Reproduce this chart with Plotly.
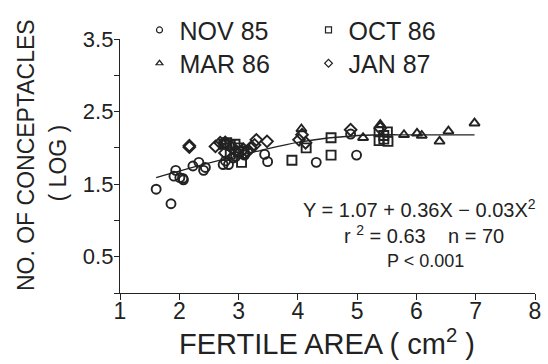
import plotly.graph_objects as go

# ---- data ----
nov85_x = [1.61, 1.86, 1.94, 1.91, 2.06, 2.07, 2.01, 2.23, 2.33, 2.41, 2.44, 2.74, 2.83, 2.91, 3.44, 3.49, 4.31, 4.99, 4.89, 2.78, 2.95, 3.10]
nov85_y = [1.43, 1.23, 1.69, 1.61, 1.58, 1.56, 1.59, 1.75, 1.80, 1.69, 1.73, 1.77, 1.77, 1.86, 1.91, 1.81, 1.80, 1.90, 2.19, 1.82, 1.88, 1.90]

oct86_x = [2.80, 2.86, 2.94, 2.99, 3.05, 2.86, 3.90, 4.14, 4.56, 4.56, 5.37, 5.51, 5.37, 5.52, 5.45, 2.75, 3.00, 5.45]
oct86_y = [2.07, 2.04, 2.05, 2.00, 1.80, 1.91, 1.83, 2.00, 2.14, 1.90, 2.22, 2.22, 2.10, 2.09, 2.17, 2.05, 1.95, 2.12]

mar86_x = [4.06, 5.10, 5.39, 5.79, 6.01, 6.09, 6.39, 6.54, 6.98, 2.78]
mar86_y = [2.26, 2.14, 2.32, 2.18, 2.20, 2.17, 2.09, 2.23, 2.34, 2.09]

jan87_x = [2.17, 2.17, 2.61, 2.69, 2.77, 2.77, 3.08, 3.10, 3.30, 3.27, 3.48, 4.07, 4.02, 4.13, 5.39, 4.89, 2.95, 3.15, 2.90, 3.20]
jan87_y = [2.01, 2.03, 2.02, 2.07, 2.07, 1.93, 1.98, 1.93, 2.11, 2.04, 2.09, 2.18, 2.11, 2.07, 2.27, 2.25, 1.96, 1.95, 2.00, 2.00]

fit_x = [1.61, 2.00, 2.74, 3.30, 4.02, 5.02, 5.98, 6.98]
fit_y = [1.59, 1.68, 1.84, 1.95, 2.08, 2.17, 2.18, 2.18]

x_ticks = [1, 2, 3, 4, 5, 6, 7, 8]
y_ticks = [0, 0.5, 1.0, 1.5, 2.0, 2.5, 3.0, 3.5]
y_ticktext = ["", "0.5", "", "1.5", "", "2.5", "", "3.5"]

series = [
    ("NOV 85", nov85_x, nov85_y, "circle-open", "legend"),
    ("OCT 86", oct86_x, oct86_y, "square-open", "legend"),
    ("MAR 86", mar86_x, mar86_y, "triangle-up-open", "legend2"),
    ("JAN 87", jan87_x, jan87_y, "diamond-open", "legend2"),
]

FONT = "Liberation Sans"
INK = "#222222"

fig = go.Figure()

fig.add_trace(go.Scatter(x=fit_x, y=fit_y, mode="lines",
                         line=dict(color=INK, width=1.3, shape="spline"),
                         showlegend=False, hoverinfo="skip"))

for name, xs, ys, sym, lg in series:
    fig.add_trace(go.Scatter(x=xs, y=ys, mode="markers", name=name,
                             marker=dict(symbol=sym, size=9, color=INK,
                                         line=dict(width=1.9, color=INK)),
                             showlegend=False))
    fig.add_trace(go.Scatter(x=[None], y=[None], mode="markers", name=name,
                             legend=lg,
                             marker=dict(symbol=sym, size=6, color=INK,
                                         line=dict(width=1.2, color=INK)),
                             showlegend=True))

legend_common = dict(orientation="h", entrywidth=124, entrywidthmode="pixels",
                     font=dict(family=FONT, size=25, color=INK),
                     bgcolor="rgba(0,0,0,0)", borderwidth=0,
                     xanchor="left", yanchor="middle", itemclick=False)

fig.update_layout(
    width=548, height=364,
    margin=dict(l=120, r=7, t=34, b=71),
    paper_bgcolor="white", plot_bgcolor="white",
    font=dict(family=FONT, color=INK),
    legend=dict(x=0.047, y=(293 - 25) / 259, **legend_common),
    legend2=dict(x=0.047, y=(293 - 59) / 259, **legend_common),
    xaxis=dict(range=[1, 8], tickvals=x_ticks, ticktext=[str(v) for v in x_ticks],
               showgrid=False, zeroline=False, showline=True, linecolor=INK,
               linewidth=1.3, ticks="outside", ticklen=6, tickwidth=1.3,
               tickcolor=INK, ticklabelstandoff=-9,
               tickfont=dict(family=FONT, size=23, color=INK)),
    yaxis=dict(range=[0, 3.5], tickvals=y_ticks, ticktext=y_ticktext,
               showgrid=False, zeroline=False, showline=True, linecolor=INK,
               linewidth=1.3, ticks="outside", ticklen=5, tickwidth=1.3,
               tickcolor=INK, ticklabelstandoff=-4,
               tickfont=dict(family=FONT, size=22, color=INK)),
)

annots = [
    dict(text="NO. OF CONCEPTACLES", x=24, y=152, size=23, angle=-90),
    dict(text="( LOG )", x=57, y=160, size=23, angle=-90),
    dict(text="FERTILE AREA ( cm<sup>2</sup> )", x=330, y=343, size=29, angle=0),
    dict(text="Y = 1.07 + 0.36X \u2212 0.03X<sup>2</sup>", x=424, y=207, size=20, angle=0),
    dict(text="r <sup>2</sup> = 0.63    n = 70", x=428, y=233, size=20, angle=0),
    dict(text="P < 0.001", x=430, y=260, size=18, angle=0),
]
for a in annots:
    fig.add_annotation(text=a["text"], xref="paper", yref="paper",
                       x=(a["x"] - 120) / 421, y=(293 - a["y"]) / 259,
                       xanchor="center", yanchor="middle", showarrow=False,
                       textangle=a["angle"],
                       font=dict(family=FONT, size=a["size"], color=INK))

fig.write_html("out.html")
